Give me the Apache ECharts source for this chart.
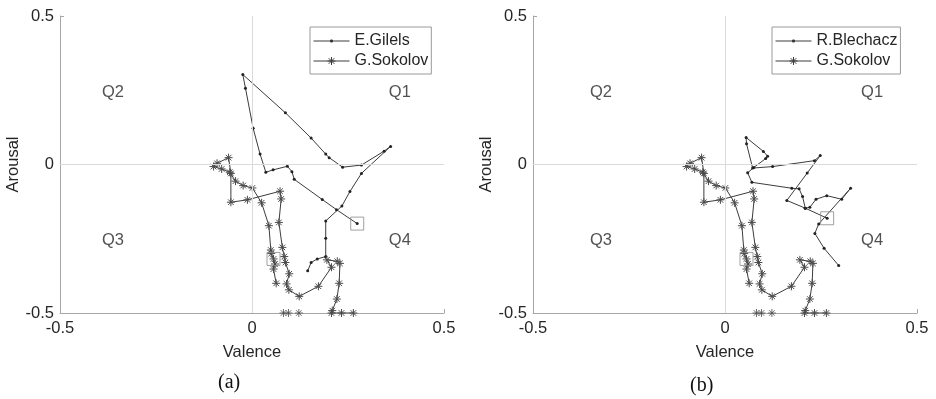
<!DOCTYPE html>
<html>
<head>
<meta charset="utf-8">
<script src="https://cdn.jsdelivr.net/npm/echarts@6/dist/echarts.min.js"></script>
<style>
  html, body { margin: 0; padding: 0; background: #fff; }
  #main { width: 936px; height: 399px; }
</style>
</head>
<body>
<div id="main"></div>
<script>
// valence / arousal trajectories
var gilels = [
  [0.274, -0.199], [0.22, -0.152], [0.183, -0.118], [0.11, -0.05], [0.104, -0.024],
  [0.092, -0.006], [0.055, -0.018], [0.036, -0.026], [0.021, 0.035], [0.003, 0.122],
  [-0.017, 0.257], [-0.024, 0.303], [0.087, 0.174], [0.154, 0.089], [0.192, 0.035],
  [0.201, 0.023], [0.236, -0.009], [0.285, -0.002], [0.344, 0.045], [0.361, 0.061],
  [0.285, -0.03], [0.255, -0.091], [0.234, -0.14], [0.192, -0.19], [0.192, -0.248],
  [0.192, -0.31], [0.17, -0.318], [0.154, -0.33], [0.145, -0.358]
];
var blechacz = [
  [0.266, -0.181], [0.209, -0.147], [0.161, -0.121], [0.214, -0.029], [0.248, 0.03],
  [0.233, 0.013], [0.124, -0.007], [0.072, -0.012], [0.056, 0.07], [0.055, 0.091],
  [0.1, 0.044], [0.111, 0.028], [0.106, 0.02], [0.075, -0.01], [0.059, -0.028],
  [0.07, -0.06], [0.174, -0.08], [0.193, -0.082], [0.202, -0.108], [0.209, -0.147],
  [0.221, -0.144], [0.237, -0.117], [0.265, -0.105], [0.304, -0.117], [0.327, -0.08],
  [0.244, -0.2], [0.234, -0.232], [0.258, -0.282], [0.296, -0.34]
];
var sokolov = [
  [0.063, -0.4], [0.056, -0.352], [0.06, -0.335], [0.056, -0.318], [0.05, -0.3],
  [0.049, -0.288], [0.044, -0.206], [0.025, -0.129], [0.001, -0.079], [-0.023, -0.071],
  [-0.043, -0.056], [-0.058, -0.026], [-0.079, -0.015], [-0.1, -0.007], [-0.091, 0.004],
  [-0.061, 0.023], [-0.055, -0.03], [-0.055, -0.127], [-0.012, -0.119], [0.073, -0.09],
  [0.076, -0.116], [0.07, -0.195], [0.079, -0.279], [0.084, -0.31], [0.087, -0.33],
  [0.097, -0.368], [0.09, -0.402], [0.096, -0.422], [0.123, -0.444], [0.173, -0.41],
  [0.207, -0.346], [0.195, -0.321], [0.222, -0.326], [0.229, -0.333], [0.227, -0.4],
  [0.221, -0.453], [0.209, -0.492], [0.207, -0.5], [0.233, -0.5], [0.264, -0.5]
];
var sokolovFloor = [[0.082, -0.5], [0.095, -0.5], [0.122, -0.5]];
var startA = [[0.274, -0.199], [0.056, -0.318]];
var startB = [[0.266, -0.181], [0.056, -0.318]];
var quadA = [[0.385, 0.243, 'Q1'], [-0.362, 0.243, 'Q2'], [-0.362, -0.256, 'Q3'], [0.385, -0.256, 'Q4']];
var quadB = [[0.383, 0.243, 'Q1'], [-0.323, 0.243, 'Q2'], [-0.323, -0.256, 'Q3'], [0.383, -0.256, 'Q4']];
var ticks = [-0.5, 0, 0.5];

var font = 'Liberation Sans, Arial, Helvetica, sans-serif';
var fs = 16.5;
var axisGray = '#a6a6a6';
var textColor = '#262626';
var star = 'path://M5,0L5,10M0,5L10,5M1.5,1.5L8.5,8.5M1.5,8.5L8.5,1.5';
// legend samples: line with the marker in the middle
var starIcon = 'path://M0,5L36,5M18,1L18,9M14,5L22,5M15.2,2.2L20.8,7.8M15.2,7.8L20.8,2.2';
var dotIcon = 'path://M0,5L36,5M17,4L19,4L19,6L17,6Z';

function makeAxis(i, name, gap, isX){
  return {
    type: 'value', gridIndex: i, min: -0.5, max: 0.5, interval: 0.5,
    name: name, nameLocation: 'middle', nameGap: gap,
    nameTextStyle: {fontFamily: font, fontSize: fs, color: textColor},
    axisLine: {onZero: false, lineStyle: {color: axisGray, width: 1}},
    axisTick: {inside: true, length: 4, lineStyle: {color: axisGray}},
    axisLabel: {fontFamily: font, fontSize: fs, color: textColor, margin: isX ? 7 : 6,
      formatter: function(v){ return ticks.indexOf(v) >= 0 ? String(v) : ''; }},
    splitLine: {show: false}
  };
}

function pathSeries(name, data, i, symbol, size, dotted){
  return {
    name: name, type: 'line', xAxisIndex: i, yAxisIndex: i, data: data,
    symbol: symbol, symbolSize: size, showAllSymbol: true, z: 3,
    lineStyle: {color: '#3c3c3c', width: 1},
    itemStyle: dotted ? {color: '#222'} : {color: 'rgba(0,0,0,0)', borderColor: '#4a4a4a', borderWidth: 1}
  };
}

function labelSeries(data, i){
  return {
    type: 'scatter', xAxisIndex: i, yAxisIndex: i, data: data, symbolSize: 0, z: 1, silent: true,
    label: {show: true, position: 'inside', formatter: function(p){ return p.data[2]; },
      fontFamily: font, fontSize: fs, color: textColor},
    markLine: {silent: true, symbol: 'none', label: {show: false},
      lineStyle: {color: '#dadada', type: 'solid', width: 1},
      data: [{xAxis: 0}, {yAxis: 0}]}
  };
}

function startSeries(data, i){
  return {
    type: 'scatter', xAxisIndex: i, yAxisIndex: i, data: data, symbol: 'rect', symbolSize: 13, z: 4,
    itemStyle: {color: 'rgba(0,0,0,0)', borderColor: '#8a8a8a', borderWidth: 1}
  };
}

function floorSeries(data, i){
  return {
    type: 'scatter', xAxisIndex: i, yAxisIndex: i, data: data, symbol: star, symbolSize: 8, z: 3,
    itemStyle: {color: 'rgba(0,0,0,0)', borderColor: '#4a4a4a', borderWidth: 1}
  };
}

function legendBox(names, left){
  return {
    data: [
      {name: names[0], icon: dotIcon, itemStyle: {color: '#222', borderColor: '#3c3c3c', borderWidth: 1}},
      {name: names[1], icon: starIcon, itemStyle: {color: 'rgba(0,0,0,0)', borderColor: '#3c3c3c', borderWidth: 1}}
    ],
    orient: 'vertical', left: left, top: 27,
    itemWidth: 36, itemHeight: 10, itemGap: 4,
    padding: [6, 3, 5, 3],
    borderColor: '#9a9a9a', borderWidth: 1, backgroundColor: '#fff',
    textStyle: {fontFamily: font, fontSize: 16, color: textColor}
  };
}

var chart = echarts.init(document.getElementById('main'));
chart.setOption({
  animation: false,
  grid: [
    {left: 60, top: 16, width: 384, height: 297},
    {left: 533, top: 16, width: 384, height: 297}
  ],
  xAxis: [makeAxis(0, 'Valence', 31, true), makeAxis(1, 'Valence', 31, true)],
  yAxis: [makeAxis(0, 'Arousal', 34, false), makeAxis(1, 'Arousal', 34, false)],
  legend: [legendBox(['E.Gilels', 'G.Sokolov'], 310), legendBox(['R.Blechacz', 'G.Sokolov'], 772)],
  graphic: [
    {type: 'text', left: 218, top: 373, style: {text: '(a)', font: '20px "Liberation Serif", serif', fill: '#111'}},
    {type: 'text', left: 690, top: 376, style: {text: '(b)', font: '20px "Liberation Serif", serif', fill: '#111'}}
  ],
  series: [
    labelSeries(quadA, 0),
    pathSeries('E.Gilels', gilels, 0, 'circle', 3, true),
    pathSeries('G.Sokolov', sokolov, 0, star, 8, false),
    floorSeries(sokolovFloor, 0),
    startSeries(startA, 0),
    labelSeries(quadB, 1),
    pathSeries('R.Blechacz', blechacz, 1, 'circle', 3, true),
    pathSeries('G.Sokolov', sokolov, 1, star, 8, false),
    floorSeries(sokolovFloor, 1),
    startSeries(startB, 1)
  ]
});
</script>
</body>
</html>
